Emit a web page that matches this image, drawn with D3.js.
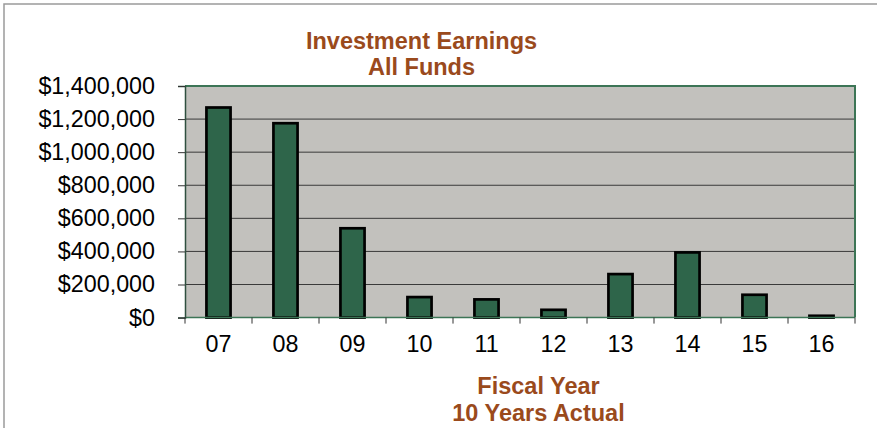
<!DOCTYPE html>
<html>
<head>
<meta charset="utf-8">
<script src="https://cdn.jsdelivr.net/npm/d3@7"></script>
<style>
  html, body { margin: 0; padding: 0; background: #fff; }
  svg { display: block; font-family: "Liberation Sans", Arial, sans-serif; }
</style>
</head>
<body>
<svg id="chart" width="877" height="428"></svg>
<script>
// Fiscal years and investment earnings (dollars)
const years = ["07", "08", "09", "10", "11", "12", "13", "14", "15", "16"];
const earnings = [1270000, 1175000, 540000, 124000, 110000, 47000, 263000, 394000, 138000, 11000];
const yTicks = [0, 200000, 400000, 600000, 800000, 1000000, 1200000, 1400000];
const titleLines = ["Investment Earnings", "All Funds"];
const xTitleLines = ["Fiscal Year", "10 Years Actual"];

const svg = d3.select("#chart");
const plot = { left: 185, right: 855, top: 86, bottom: 317.6 };

const x = d3.scaleBand()
  .domain(years)
  .range([plot.left, plot.right])
  .paddingInner(0.64)
  .paddingOuter(0.32);

const y = d3.scaleLinear()
  .domain([0, 1400000])
  .range([plot.bottom, plot.top]);

// outer frame
svg.append("rect")
  .attr("x", 4).attr("y", 4)
  .attr("width", 890).attr("height", 440)
  .attr("fill", "none")
  .attr("stroke", "#9a9a9a")
  .attr("stroke-width", 1.5);

// plot background
svg.append("rect")
  .attr("x", plot.left).attr("y", plot.top)
  .attr("width", plot.right - plot.left)
  .attr("height", plot.bottom - plot.top)
  .attr("fill", "#c2c1bd");

// gridlines
svg.append("g")
  .selectAll("line")
  .data(yTicks.slice(1, -1))
  .join("line")
  .attr("x1", plot.left).attr("x2", plot.right)
  .attr("y1", d => y(d)).attr("y2", d => y(d))
  .attr("stroke", "#3a3a3a")
  .attr("stroke-width", 1);

// plot border (top, right)
svg.append("path")
  .attr("d", `M${plot.left},${plot.top}H${plot.right}V${plot.bottom}`)
  .attr("fill", "none")
  .attr("stroke", "#3c7556")
  .attr("stroke-width", 2);

// bars
svg.append("g")
  .selectAll("rect")
  .data(years.map((yr, i) => ({ yr, v: earnings[i] })))
  .join("rect")
  .attr("x", d => x(d.yr))
  .attr("width", x.bandwidth())
  .attr("y", d => y(d.v))
  .attr("height", d => y(0) - y(d.v))
  .attr("fill", "#2e654a")
  .attr("stroke", "#000")
  .attr("stroke-width", 2.7);

// baseline
svg.append("line")
  .attr("x1", plot.left).attr("x2", plot.right)
  .attr("y1", y(0)).attr("y2", y(0))
  .attr("stroke", "#3c7556")
  .attr("stroke-width", 1.5);

// y axis
const yAxis = svg.append("g")
  .attr("transform", `translate(${plot.left},0)`)
  .call(d3.axisLeft(y).tickValues(yTicks).tickFormat(d3.format("$,")).tickSize(7).tickPadding(23));
yAxis.select(".domain").attr("stroke", "#2f4f3f").attr("stroke-width", 1.5);
yAxis.selectAll(".tick line").attr("stroke", "#333");
yAxis.selectAll(".tick text")
  .attr("fill", "#000")
  .attr("font-size", 23.3)
  .attr("font-family", "Liberation Sans, Arial, sans-serif");

// x axis: ticks at category boundaries, labels centred under bars
const gap = (x.step() - x.bandwidth()) / 2;
const bounds = years.map(d => x(d) - gap).concat([x(years[years.length - 1]) + x.bandwidth() + gap]);
svg.append("g")
  .selectAll("line")
  .data(bounds)
  .join("line")
  .attr("x1", d => d).attr("x2", d => d)
  .attr("y1", plot.bottom).attr("y2", plot.bottom + 6)
  .attr("stroke", "#333")
  .attr("stroke-width", 1);

const xAxis = svg.append("g")
  .attr("transform", `translate(0,${plot.bottom})`)
  .call(d3.axisBottom(x).tickSize(0).tickPadding(18));
xAxis.select(".domain").remove();
xAxis.selectAll(".tick text")
  .attr("fill", "#000")
  .attr("font-size", 23.3)
  .attr("font-family", "Liberation Sans, Arial, sans-serif");

// chart title
svg.append("text")
  .attr("x", 421.5).attr("y", 49.3)
  .attr("text-anchor", "middle")
  .selectAll("tspan")
  .data(titleLines)
  .join("tspan")
  .attr("x", 421.5)
  .attr("dy", (d, i) => i === 0 ? 0 : 26)
  .text(d => d)
  .attr("font-size", 23.5)
  .attr("font-weight", "bold")
  .attr("fill", "#9a4a1c");

// x axis title
svg.append("text")
  .attr("x", 538.5).attr("y", 394.3)
  .attr("text-anchor", "middle")
  .selectAll("tspan")
  .data(xTitleLines)
  .join("tspan")
  .attr("x", 538.5)
  .attr("dy", (d, i) => i === 0 ? 0 : 26.7)
  .text(d => d)
  .attr("font-size", 23.5)
  .attr("font-weight", "bold")
  .attr("fill", "#9a4a1c");
</script>
</body>
</html>
